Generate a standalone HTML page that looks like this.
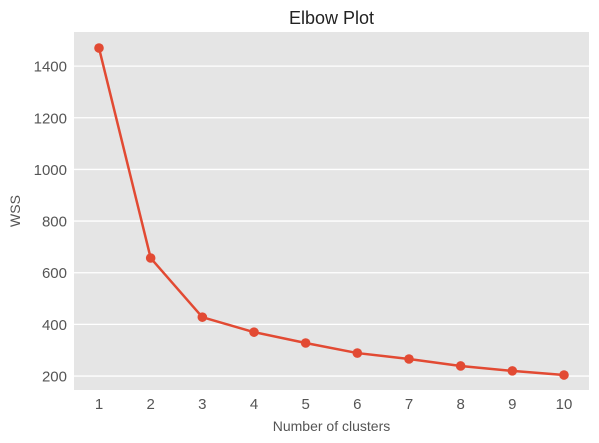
<!DOCTYPE html>
<html><head><meta charset="utf-8"><style>
body{margin:0;background:#fff;}
svg{display:block;font-family:"Liberation Sans",sans-serif;}
</style></head><body>
<svg id="chart" width="599" height="443" viewBox="0 0 599 443"></svg>
<script>
const clusters=[1,2,3,4,5,6,7,8,9,10];
const wss=[1470,657,428,370,328,289,266,239,220,204];
const yTicks=[200,400,600,800,1000,1200,1400];
const NS="http://www.w3.org/2000/svg";
const svg=document.getElementById('chart');
const L=74,R=589,T=32,B=390,ymin=146,ymax=1532;
const xs=v=>99+(v-1)*(564-99)/9;
const ys=v=>B-(v-ymin)*(B-T)/(ymax-ymin);
function mk(t,a,p){const e=document.createElementNS(NS,t);for(const k in a)e.setAttribute(k,a[k]);(p||svg).appendChild(e);return e;}
const bg=mk('rect',{x:L,y:T,width:R-L,height:B-T,fill:'#e5e5e5'});


yTicks.forEach(v=>{
const g=mk('line',{x1:L,x2:R,y1:ys(v),y2:ys(v),stroke:'#fff','stroke-width':1.3});


const t=mk('text',{x:L-7,y:ys(v)+5.5,'text-anchor':'end','font-size':15,fill:'#555'});
t.textContent=v;


});
clusters.forEach(c=>{
const t=mk('text',{x:xs(c),y:B+19,'text-anchor':'middle','font-size':15,fill:'#555'});
t.textContent=c;


});
const line=mk('polyline',{points:clusters.map((c,i)=>xs(c)+','+ys(wss[i])).join(' '),fill:'none',stroke:'#e24a33','stroke-width':2.5});


clusters.forEach((c,i)=>{
const p=mk('circle',{cx:xs(c),cy:ys(wss[i]),r:4.8,fill:'#e24a33'});


});
const ti=mk('text',{x:(L+R)/2,y:24,'text-anchor':'middle','font-size':18,fill:'#222'});
ti.textContent='Elbow Plot';


const xl=mk('text',{x:(L+R)/2,y:431,'text-anchor':'middle','font-size':14,fill:'#555'});
xl.textContent='Number of clusters';


const yl=mk('text',{x:20,y:(T+B)/2,'text-anchor':'middle','font-size':14,fill:'#555',transform:'rotate(-90 20 '+(T+B)/2+')'});
yl.textContent='WSS';


</script>
</body></html>
